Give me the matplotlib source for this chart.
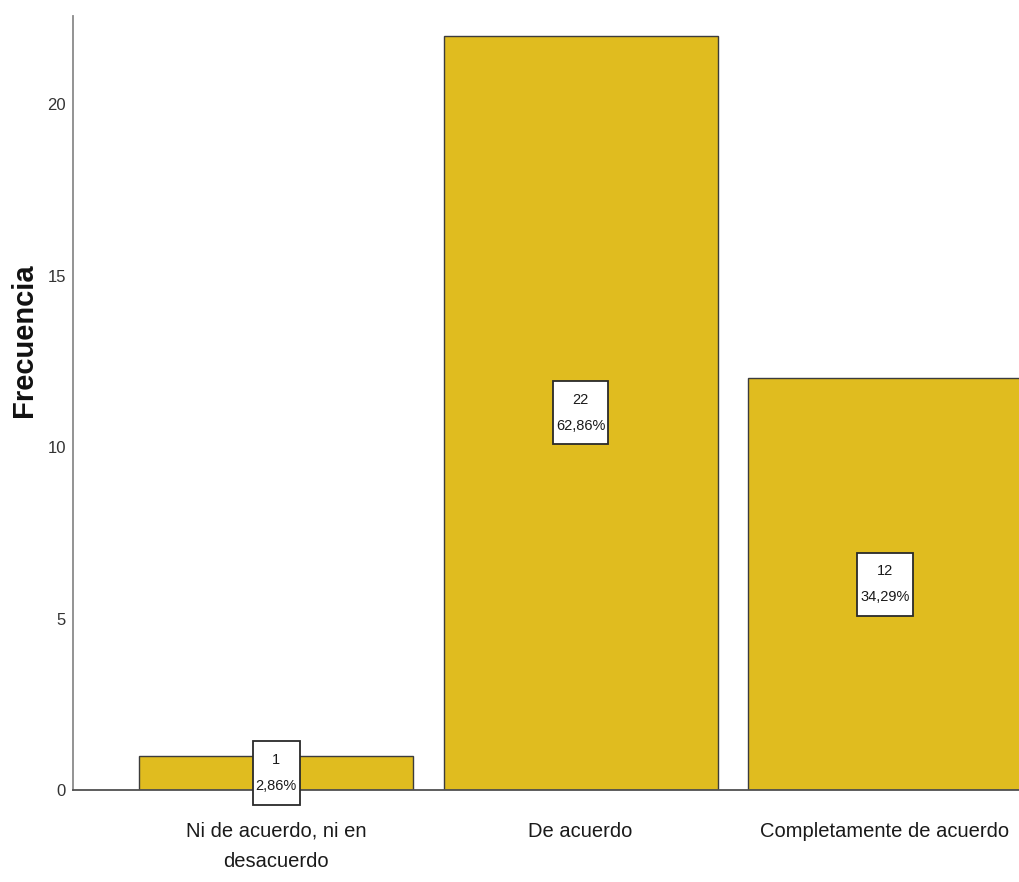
import matplotlib.pyplot as plt
from matplotlib.path import Path

categories = ["Ni de acuerdo, ni en\ndesacuerdo", "De acuerdo", "Completamente de acuerdo"]
counts = [1, 22, 12]
percents = [2.86, 62.86, 34.29]
y_ticks = [0, 5, 10, 15, 20]

BAR_COLOUR = "#E0BC1F"
EDGE_COLOUR = "#3C3C3C"
FONT = ["Liberation Sans", "DejaVu Sans"]


def tall_box(x0, y0, width, height, mutation_size):
    # square label box, narrow at the sides and roomy above/below
    padx = 0.2 * mutation_size
    pady = 0.8 * mutation_size
    x0, y0 = x0 - padx, y0 - pady
    x1, y1 = x0 + width + 2 * padx, y0 + height + 2 * pady
    return Path([(x0, y0), (x1, y0), (x1, y1), (x0, y1), (x0, y0)], closed=True)


fig = plt.figure(figsize=(10.19, 8.82), dpi=100)
ax = fig.add_axes([73 / 1019, 1 - 790 / 882, 1 - 73 / 1019, (790 - 16) / 882])

x = list(range(len(categories)))
ax.bar(x, counts, width=0.9, color=BAR_COLOUR, edgecolor=EDGE_COLOUR, linewidth=1.0, zorder=2)

# count / percentage boxes halfway up each bar
for xi, n, pct in zip(x, counts, percents):
    label = f"{n}\n{pct:.2f}%".replace(".", ",")
    ax.text(xi, n / 2, label, ha="center", va="center", fontsize=10.5,
            family=FONT, color="#1a1a1a", linespacing=2.1, zorder=3,
            bbox=dict(boxstyle=tall_box, facecolor="white",
                      edgecolor="#2a2a2a", linewidth=1.3))

ax.set_xlim(-0.667, 2.44)
ax.set_ylim(0, 22.57)
ax.set_xticks(x)
ax.set_xticklabels(categories, fontsize=14.5, family=FONT, color="#1a1a1a", linespacing=1.75)
ax.set_yticks(y_ticks)
ax.set_yticklabels([str(t) for t in y_ticks], fontsize=12, family=FONT, color="#333333")
ax.tick_params(axis="both", length=0)
ax.tick_params(axis="y", pad=5)
ax.tick_params(axis="x", pad=23)

for side in ("top", "right"):
    ax.spines[side].set_visible(False)
ax.spines["left"].set_color("#8a8a8a")
ax.spines["left"].set_linewidth(1.3)
ax.spines["bottom"].set_color("#505050")
ax.spines["bottom"].set_linewidth(1.3)

fig.text(24 / 1019, 1 - 340 / 882, "Frecuencia", rotation=90, ha="center", va="center",
         fontsize=21, fontweight="bold", family=FONT, color="#111111")

fig.savefig("out.png", dpi=100)
